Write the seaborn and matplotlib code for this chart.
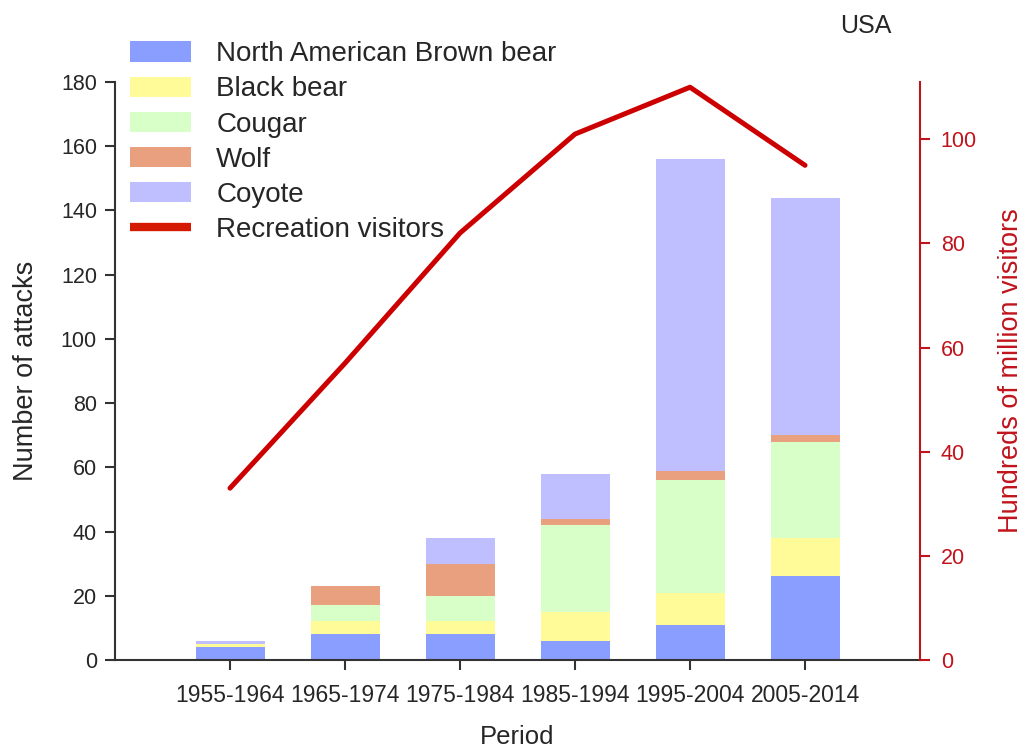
import seaborn as sns
import pandas as pd
import matplotlib
matplotlib.use('Agg')
import matplotlib.pyplot as plt
from matplotlib.patches import Patch
from matplotlib.lines import Line2D


periods = ['1955-1964', '1965-1974', '1975-1984', '1985-1994', '1995-2004', '2005-2014']
species = ['North American Brown bear', 'Black bear', 'Cougar', 'Wolf', 'Coyote']
brown_bear = [4, 8, 8, 6, 11, 26]
black_bear = [1, 4, 4, 9, 10, 12]
cougar = [0, 5, 8, 27, 35, 30]
wolf = [0, 6, 10, 2, 3, 2]
coyote = [1, 0, 8, 14, 97, 74]
visitors = [33, 57, 82, 101, 110, 95]

colors = ['#8a9eff', '#fffb99', '#d9ffc8', '#e8a07f', '#bfbfff']
line_col = '#cc0000'
axis_red = '#c0141c'

sns.set_style('ticks')
plt.rcParams['font.family'] = ['Liberation Sans', 'DejaVu Sans']

db = pd.DataFrame({'Period': periods, species[0]: brown_bear, species[1]: black_bear,
                   species[2]: cougar, species[3]: wolf, species[4]: coyote})
cum = db[species].cumsum(axis=1)
cum['Period'] = db['Period']

fig = plt.figure(figsize=(10.25, 7.51), dpi=100)
ax = fig.add_axes([0.1122, 0.1212, 0.7854, 0.7696])

# overlap cumulative totals, tallest first
for sp, col in reversed(list(zip(species, colors))):
	sns.barplot(x='Period', y=sp, data=cum, order=periods, color=col, width=0.6,
	            saturation=1, ax=ax, linewidth=0)

ax.set_xlim(-1, 6)
ax.set_ylim(0, 180)
ax.set_yticks(range(0, 181, 20))
ax.set_xlabel('Period', fontsize=18.5, labelpad=13)
ax.set_ylabel('Number of attacks', fontsize=19.5, labelpad=16)
ax.tick_params(axis='x', labelsize=16.5, length=7, width=1.5, color='#333333', pad=10)
ax.tick_params(axis='y', labelsize=15.5, length=7, width=1.5, color='#333333', pad=6)
for s in ['left', 'bottom']:
	ax.spines[s].set_color('#333333')
	ax.spines[s].set_linewidth(1.5)
ax.spines['top'].set_visible(False)
ax.spines['right'].set_visible(False)

ax2 = ax.twinx()
vis = pd.DataFrame({'pos': list(range(len(periods))), 'visitors': visitors})
sns.lineplot(x='pos', y='visitors', data=vis, color=line_col, linewidth=3.6, ax=ax2,
             sort=False)
ax2.set_ylim(0, 111)
ax2.set_yticks(range(0, 101, 20))
ax2.set_xlim(-1, 6)
ax2.set_xlabel('')
ax2.set_ylabel('Hundreds of million visitors', fontsize=19.5, color=axis_red, labelpad=15)
ax2.tick_params(axis='y', labelsize=15.5, colors=axis_red, length=7, width=1.5, pad=8)
ax2.spines['right'].set_color(axis_red)
ax2.spines['right'].set_linewidth(1.5)
for s in ['top', 'left', 'bottom']:
	ax2.spines[s].set_visible(False)

handles = [Patch(facecolor=c, edgecolor='none') for c in colors]
handles.append(Line2D([0], [0], color='#d41a00', linewidth=6, solid_capstyle='butt'))
fig.legend(handles, species + ['Recreation visitors'], loc='upper left',
           bbox_to_anchor=(0.127, 0.945), frameon=False, fontsize=20,
           handlelength=2.2, handleheight=0.75, handletextpad=0.9, labelspacing=0.33,
           borderaxespad=0, borderpad=0)

fig.text(0.845, 0.965, 'USA', fontsize=18, ha='center', va='center')

fig.savefig('out.png', dpi=100)
plt.close(fig)
